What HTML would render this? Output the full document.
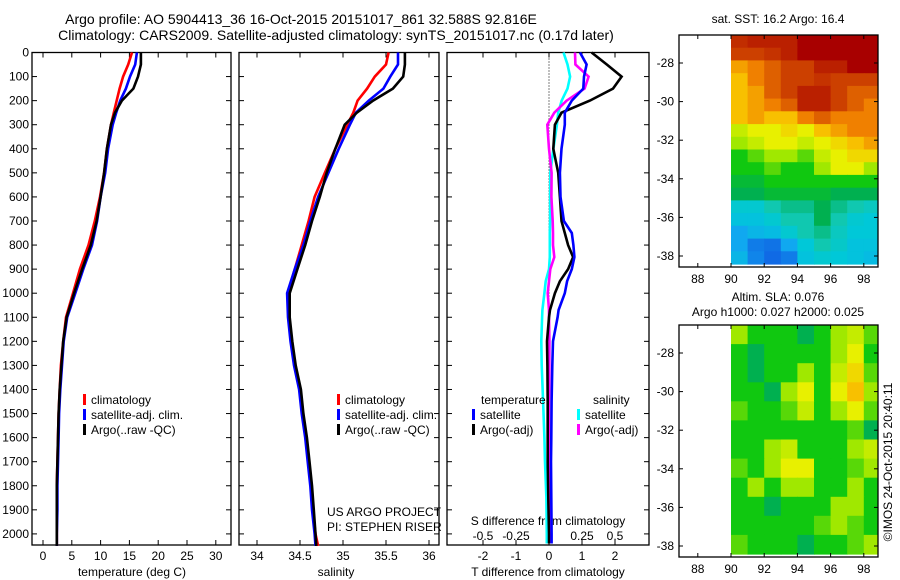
<!DOCTYPE html>
<html><head><meta charset="utf-8">
<style>
html,body{margin:0;padding:0;background:#fff;}
svg{display:block;font-family:"Liberation Sans",sans-serif;}
text{fill:#000;font-size:12px;}
.ttl{font-size:14px;}
</style></head>
<body>
<svg id="chart" width="900" height="580" viewBox="0 0 900 580">
<text class="ttl" x="301" y="24" text-anchor="middle">Argo profile: AO 5904413_36 16-Oct-2015 20151017_861 32.588S 92.816E</text>
<text class="ttl" x="336" y="40" text-anchor="middle">Climatology: CARS2009. Satellite-adjusted climatology: synTS_20151017.nc (0.17d later)</text>
<text x="778" y="23" text-anchor="middle">sat. SST: 16.2 Argo: 16.4</text>
<text x="778" y="301" text-anchor="middle">Altim. SLA: 0.076</text>
<text x="778" y="316" text-anchor="middle">Argo h1000: 0.027 h2000: 0.025</text>
<text x="132" y="576" text-anchor="middle">temperature (deg C)</text>
<text x="336" y="576" text-anchor="middle">salinity</text>
<text x="548" y="576" text-anchor="middle">T difference from climatology</text>
<text x="548" y="525" text-anchor="middle">S difference from climatology</text>
<text x="327" y="516">US ARGO PROJECT</text>
<text x="327" y="531">PI: STEPHEN RISER</text>
<text transform="translate(892,462) rotate(-90)" text-anchor="middle">©IMOS 24-Oct-2015 20:40:11</text>
<g id="g"></g>
</svg>
<script>
// ---- data ----
const depths = [0,50,100,150,200,250,300,400,500,600,700,800,900,1000,1100,1200,1300,1400,1500,1600,1700,1800,1900,2000,2050];
const tClim = [15.45,14.8,13.9,13.3,12.8,12.3,11.8,11.1,10.6,9.9,9.0,7.9,6.4,5.2,4.0,3.5,3.1,2.9,2.7,2.6,2.5,2.4,2.4,2.4,2.4];
const tSat  = [16.3,16.0,15.1,14.4,13.4,12.7,12.1,11.3,10.8,10.0,9.4,8.5,7.0,5.6,4.2,3.6,3.3,3.0,2.8,2.7,2.6,2.5,2.5,2.4,2.4];
const tArgo = [17.0,17.0,16.5,15.7,13.7,12.5,11.8,11.1,10.6,10.0,9.3,8.3,6.8,5.4,4.1,3.5,3.2,2.9,2.7,2.6,2.5,2.4,2.4,2.4,2.4];
const sClim = [35.53,35.5,35.37,35.28,35.17,35.12,35.05,34.91,34.79,34.67,34.6,34.52,34.44,34.36,34.37,34.40,34.44,34.5,34.53,34.57,34.6,34.63,34.65,34.68,34.71];
const sSat  = [35.64,35.64,35.55,35.47,35.3,35.15,35.08,34.95,34.83,34.71,34.62,34.54,34.44,34.35,34.36,34.39,34.43,34.49,34.52,34.56,34.59,34.62,34.64,34.67,34.68];
const sArgo = [35.72,35.72,35.7,35.58,35.35,35.16,35.02,34.91,34.81,34.73,34.64,34.56,34.47,34.38,34.38,34.41,34.45,34.51,34.54,34.58,34.61,34.64,34.66,34.68,34.69];
const diffDepths = [0,50,100,150,200,250,300,400,500,600,700,750,800,850,900,950,1000,1070,1100,1200,1300,1450,1600,1700,1850,2000,2040];
const dTsat  = [0.94,1.14,1.06,1.04,0.69,0.48,0.48,0.38,0.33,0.35,0.45,0.69,0.74,0.77,0.69,0.55,0.48,0.29,0.26,0.12,0.10,0.08,0.07,0.06,0.07,0.08,0.08];
const dTargo = [1.29,1.75,2.2,1.94,1.24,0.38,0.18,0.13,0.28,0.33,0.38,0.48,0.58,0.73,0.58,0.33,0.18,0.03,0.0,-0.06,-0.05,-0.04,-0.04,-0.04,-0.02,0.0,0.0];
const dSsat  = [0.11,0.14,0.16,0.14,0.096,0.07,0.06,0.033,0.01,0.008,0.008,0.006,0.006,0.006,0.0,-0.025,-0.035,-0.05,-0.052,-0.058,-0.055,-0.045,-0.035,-0.03,-0.02,-0.017,-0.017];
const dSargo = [0.197,0.2,0.30,0.27,0.134,0.04,-0.013,0.0,0.02,0.018,0.028,0.03,0.03,0.04,0.01,0.0,-0.01,0.0,0.0,0.003,0.002,0.0,0.0,0.0,0.002,0.004,0.004];
const depthTicks = [0,100,200,300,400,500,600,700,800,900,1000,1100,1200,1300,1400,1500,1600,1700,1800,1900,2000];
const tempTicks = [0,5,10,15,20,25,30];
const salTicks = [34,34.5,35,35.5,36];
const tdTicks = [-2,-1,0,1,2];
const sdTicks = [-0.5,-0.25,0,0.25,0.5];
const lonTicks = [88,90,92,94,96,98];
const latTicks = [-28,-30,-32,-34,-36,-38];
// map grids: rows north->south, cols 90..99 (1 deg each); values on 0-10 colour scale
const sstGrid = [
[9.3,9.5,9.5,9.5,10,10,10,10,10],
[9,9,9.2,9.5,10,10,10,10,10],
[7.5,8,8.5,9,9,9.5,9.5,10,10],
[7,8,8.5,9,9,9.2,9,9,9],
[7,7.5,8.5,9,9.5,9.5,9,8.5,8.5],
[7,7.5,8,8.5,9.5,9.5,9,8.5,8],
[7,7.5,7,7,8,8.5,8,8,8],
[5.5,6,6,6.5,6,7,7.5,8,8],
[5,5.5,6,6,5.5,6,6.5,7,7.5],
[4,4.5,5,5,4.5,5.5,6,6.5,6.5],
[4,4,4.5,4,4,5,6,6,5],
[3.7,3.7,4,4,4,4,4,4,4],
[3.5,3.5,3.7,3.7,3.7,3.7,3.5,3.5,3.5],
[2.6,2.6,3,3.2,3.2,3.5,3.2,3,2.8],
[2.4,2.4,2.6,3,3,3.5,3,2.6,2.5],
[2,2.2,2.3,2.6,3,3.2,2.8,2.5,2.5],
[2,1.5,1.4,2,2.5,3,2.7,2.4,2.4],
[2.2,1.6,1.3,1.5,2.4,2.6,2.5,2.4,2.3]];
const slaGrid = [
[5,4,4,4,3.5,4,5,5.5,4.5],
[4,3.5,4,4,4,4,5,6,4],
[4,3.5,4,4,5,4,5.5,6.5,4.5],
[4,4,3.5,5,6,4,6,7,5],
[4.5,4,4,4.5,5.5,4,5,6,4.5],
[4,4,4,4,4,4,4,4.5,3.5],
[4,4,5,5.5,4,4,4,5,5.5],
[4.5,4,5,6,6,4,4,4.5,5],
[4,5,4,5,5,4,4,5,4],
[4,4,3.5,4,4,4,5,5,4],
[4,4,4,4,4,4.5,5,4.5,4],
[4.5,4,4,4,3.5,4,4,4.5,5]];

// ---- helpers ----
const NS='http://www.w3.org/2000/svg';
const G=document.getElementById('g');
function mk(tag,attrs){const e=document.createElementNS(NS,tag);for(const k in attrs)e.setAttribute(k,attrs[k]);G.appendChild(e);return e;}
const yTop=52.5, pxPerM=0.2407;
const yD=d=>yTop+d*pxPerM;
const xT=t=>43+t*5.76;
const xS=s=>257+(s-34)*86;
const xTd=t=>549+t*33;
const xSd=s=>549+s*132;
const stops=[[1,[16,80,224]],[2,[16,168,240]],[2.5,[0,200,216]],[3,[16,200,176]],[3.5,[0,176,80]],[4,[16,200,16]],[5,[160,232,0]],[6,[232,240,0]],[7,[248,192,0]],[8,[240,128,0]],[9,[204,64,0]],[10,[168,0,0]]];
function col(v){if(v<=stops[0][0])return 'rgb('+stops[0][1]+')';for(let i=1;i<stops.length;i++){if(v<=stops[i][0]){const a=stops[i-1],b=stops[i],f=(v-a[0])/(b[0]-a[0]);return 'rgb('+a[1].map((c,j)=>Math.round(c+(b[1][j]-c)*f)).join(',')+')';}}return 'rgb('+stops[stops.length-1][1]+')';}

function frame(x0,x1,y0,y1,name){
 const r=mk('rect',{x:x0,y:y0,width:x1-x0,height:y1-y0,fill:'none',stroke:'#000','stroke-width':1.3});
 
 
}
function depthAxis(x0,x1,labels){
 depthTicks.forEach(d=>{const y=yD(d);
  const t1=mk('line',{x1:x0,x2:x0+5,y1:y,y2:y,stroke:'#000'});
  
  
  const t2=mk('line',{x1:x1-5,x2:x1,y1:y,y2:y,stroke:'#000'});
  
  
  if(labels){const t=mk('text',{x:x0-3,y:y+4,'text-anchor':'end'});t.textContent=d;
   
   }
 });
}
function xAxis(ticks,fx,y0,y1,ly,name,bottomOnly){
 ticks.forEach(v=>{const x=fx(v);
  const a=mk('line',{x1:x,x2:x,y1:y1,y2:y1-5,stroke:'#000'});
  
  
  if(!bottomOnly){const b=mk('line',{x1:x,x2:x,y1:y0,y2:y0+5,stroke:'#000'});
   
   }
  if(ly){const t=mk('text',{x:x,y:ly,'text-anchor':'middle'});t.textContent=v;
   
   }
 });
}
function line(xs,ds,fx,color,name,w){
 const pts=xs.map((v,i)=>fx(v).toFixed(1)+','+yD(ds[i]).toFixed(1)).join(' ');
 const p=mk('polyline',{points:pts,fill:'none',stroke:color,'stroke-width':w||2.6});
 
 
}
function legend(x,y,color,label,name){
 const r=mk('rect',{x:x,y:y-10,width:3,height:11,fill:color});
 
 
 const t=mk('text',{x:x+8,y:y});t.textContent=label;
 
 
}
const yB=545;
// panel 1 temperature
frame(32,231,yTop,yB,'temperature-panel');
depthAxis(32,231,true);
xAxis(tempTicks,xT,yTop,yB,560,'temperature');
line(tClim,depths,xT,'#ff0000','temperature-climatology-line');
line(tSat,depths,xT,'#0000ff','temperature-satellite-line');
line(tArgo,depths,xT,'#000000','temperature-argo-line');
legend(83,404,'#ff0000','climatology','temp-legend-climatology');
legend(83,419,'#0000ff','satellite-adj. clim.','temp-legend-satellite');
legend(83,434,'#000000','Argo(..raw -QC)','temp-legend-argo');
// panel 2 salinity
frame(239,439,yTop,yB,'salinity-panel');
depthAxis(239,439,false);
xAxis(salTicks,xS,yTop,yB,560,'salinity');
line(sClim,depths,xS,'#ff0000','salinity-climatology-line');
line(sSat,depths,xS,'#0000ff','salinity-satellite-line');
line(sArgo,depths,xS,'#000000','salinity-argo-line');
legend(337,404,'#ff0000','climatology','sal-legend-climatology');
legend(337,419,'#0000ff','satellite-adj. clim.','sal-legend-satellite');
legend(337,434,'#000000','Argo(..raw -QC)','sal-legend-argo');
// panel 3 differences
frame(447,649,yTop,yB,'difference-panel');
depthAxis(447,649,false);
xAxis(tdTicks,xTd,yTop,yB,560,'t-diff');
sdTicks.forEach(v=>{const t=mk('text',{x:xSd(v),y:540,'text-anchor':'middle'});t.textContent=v;
 
 });
const zl=mk('line',{x1:549,x2:549,y1:yTop,y2:yB,stroke:'#000','stroke-dasharray':'1,2'});


line(dSsat,diffDepths,xSd,'#00ffff','salinity-diff-satellite-line');
line(dSargo,diffDepths,xSd,'#ff00ff','salinity-diff-argo-line');
line(dTargo,diffDepths,xTd,'#000000','temperature-diff-argo-line');
line(dTsat,diffDepths,xTd,'#0000ff','temperature-diff-satellite-line');
{const t=mk('text',{x:481,y:404});t.textContent='temperature';
 
 
 const s=mk('text',{x:593,y:404});s.textContent='salinity';
 
 }
legend(472,419,'#0000ff','satellite','diff-legend-t-satellite');
legend(472,434,'#000000','Argo(-adj)','diff-legend-t-argo');
legend(577,419,'#00ffff','satellite','diff-legend-s-satellite');
legend(577,434,'#ff00ff','Argo(-adj)','diff-legend-s-argo');
// maps
const xLon=l=>731+(l-90)*16.6;
function map(grid,y0,y1,name){
 const yLat=la=>y0+28+(-28-la)*19.3;
 const nr=grid.length, nc=grid[0].length;
 const yEnd=y1-3;
 const rh=(yEnd-y0)/nr;
 grid.forEach((row,i)=>row.forEach((v,j)=>{
  const x=xLon(90+j), w=(j===nc-1)?(878-x):16.6+0.6;
  const r=mk('rect',{x:x.toFixed(1),y:(y0+i*rh).toFixed(1),width:w.toFixed(1),height:(rh+0.6).toFixed(1),fill:col(v)});
  
  
 }));
 frame(679,878,y0,y1,name+'-frame');
 lonTicks.forEach(l=>{const x=xLon(l);
  const a=mk('line',{x1:x,x2:x,y1:y1,y2:y1-4,stroke:'#000'});
  
  
  const b=mk('line',{x1:x,x2:x,y1:y0,y2:y0+4,stroke:'#000'});
  
  
  const t=mk('text',{x:x,y:y1+16,'text-anchor':'middle'});t.textContent=l;
  
  });
 latTicks.forEach(la=>{const y=yLat(la);
  const a=mk('line',{x1:679,x2:683,y1:y,y2:y,stroke:'#000'});
  
  
  const b=mk('line',{x1:874,x2:878,y1:y,y2:y,stroke:'#000'});
  
  
  const t=mk('text',{x:674,y:y+4,'text-anchor':'end'});t.textContent=la;
  
  });
}
map(sstGrid,35,267,'sst-map');
map(slaGrid,325,557,'sla-map');
</script>
</body></html>
